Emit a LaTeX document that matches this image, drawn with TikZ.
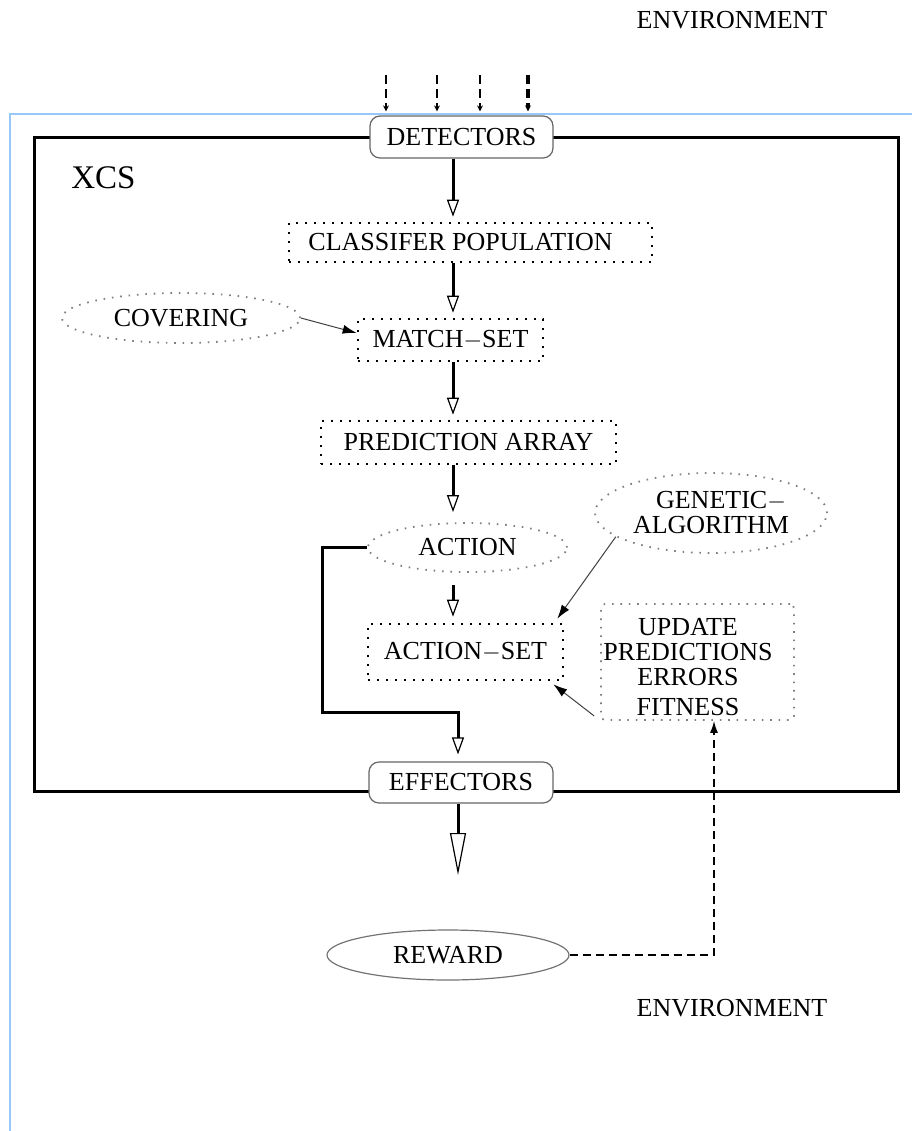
\documentclass[tikz,border=0pt]{standalone}
\usepackage{fontspec}
\setmainfont{Liberation Serif}
\usetikzlibrary{arrows.meta,shapes.geometric}
\definecolor{rulecol}{RGB}{150,200,250}
\begin{document}
\begin{tikzpicture}[x=0.5pt,y=-0.5pt,
  every node/.style={font=\fontsize{13pt}{12.5pt}\selectfont, inner sep=0pt},
  procbox/.style={rectangle, draw=black!60, line width=0.6pt, rounded corners=5pt, fill=white},
  dotbox/.style={rectangle, draw=black, line width=1.3pt, dash pattern=on 1pt off 3.5pt},
  dotell/.style={ellipse, draw=black!50, line width=0.9pt, dash pattern=on 0.8pt off 3.4pt},
  updbox/.style={rectangle, draw=black!50, line width=0.9pt, dash pattern=on 0.8pt off 3.4pt, rounded corners=2pt},
  solell/.style={ellipse, draw=black!55, line width=0.6pt},
  bigarrow/.style={line width=1.5pt, -{Triangle[open,length=8.5pt,width=6pt,line width=0.6pt]}},
  outarrow/.style={line width=1.5pt, -{Triangle[open,length=21pt,width=8pt,line width=0.6pt]}},
  thinarrow/.style={line width=0.5pt, draw=black!75, -{Latex[length=7pt,width=4.5pt,black]}},
  inarrow/.style={dash pattern=on 4.5pt off 2.5pt, -{Stealth[length=3pt,width=3pt]}},
  rewline/.style={line width=0.7pt, dash pattern=on 4pt off 2.5pt, -{Latex[length=6pt,width=4pt]}},
  bluerule/.style={draw=rulecol, line width=1.2pt}
]
\useasboundingbox (0,0) rectangle (912,1131);

% screen frame lines
\draw[bluerule] (9,114) -- (912,114);
\draw[bluerule] (10,114) -- (10,1131);

% system boundary
\draw[line width=1.5pt] (34,137) rectangle (898,791);

% labels
\node (envtop) at (732,20) {ENVIRONMENT};
\node (envbot) at (732,1008) {ENVIRONMENT};
\node[font=\fontsize{16.5pt}{18pt}\selectfont] (xcs) at (103.5,177.5) {XCS};

% components
\node[procbox, minimum width=91.5pt, minimum height=21pt] (det) at (461.5,137) {DETECTORS};
\node[dotbox, minimum width=181.5pt, minimum height=19.5pt] (cls) at (470.5,242.5) {\hspace*{-10pt}CLASSIFER POPULATION};
\node[dotbox, minimum width=92.5pt, minimum height=21pt] (mset) at (450.5,340) {MATCH$-$SET};
\node[dotell, minimum width=119pt, minimum height=25pt] (cov) at (181,318) {COVERING};
\node[dotbox, minimum width=147.5pt, minimum height=21.5pt] (pred) at (468.5,442.5) {PREDICTION ARRAY};
\node[dotell, minimum width=99.5pt, minimum height=24.5pt] (act) at (467.5,547.5) {ACTION};
\node[dotell, minimum width=116pt, minimum height=40pt, align=center] (ga) at (711,513) {\hspace*{10pt}GENETIC$-$\\ALGORITHM};
\node[dotbox, minimum width=97.5pt, minimum height=28pt] (aset) at (465.5,652) {ACTION$-$SET};
\node[updbox, minimum width=96.5pt, minimum height=58pt] (upd) at (697.5,662) {};
\node[align=center] (updtext) at (688,667) {UPDATE\\PREDICTIONS\\ERRORS\\[2.5pt]FITNESS};
\node[procbox, minimum width=92pt, minimum height=20.5pt] (eff) at (461,782.5) {EFFECTORS};
\node[solell, minimum width=121pt, minimum height=25pt] (rew) at (448,955) {REWARD};

% helper coordinates
\coordinate (col) at (453,0);
\coordinate (in1) at (386,75);
\coordinate (in2) at (437,75);
\coordinate (in3) at (480,75);
\coordinate (in4) at (528,75);
\coordinate (lft) at (322,712);
\coordinate (bend) at (458,712);
\coordinate (out) at (458,875);
\coordinate (rcol) at (714,0);

% sensor inputs
\draw[inarrow, line width=1.3pt] (in1) -- ([yshift=2pt]in1 |- det.north);
\draw[inarrow, line width=0.6pt] (in2) -- ([yshift=2pt]in2 |- det.north);
\draw[inarrow, line width=1.3pt] (in3) -- ([yshift=2pt]in3 |- det.north);
\draw[inarrow, line width=1.6pt] (in4) -- ([yshift=2pt]in4 |- det.north);

% main flow
\draw[bigarrow, shorten >=2.5pt] (col |- det.south) -- (col |- cls.north);
\draw[bigarrow, shorten >=2.5pt] (col |- cls.south) -- (col |- mset.north);
\draw[bigarrow, shorten >=2.5pt] (col |- mset.south) -- (col |- pred.north);
\draw[bigarrow, shorten >=5pt] (col |- pred.south) -- (col |- act.north);
\draw[bigarrow, shorten <=6pt, shorten >=3pt] (col |- act.south) -- (col |- aset.north);
\draw[bigarrow, shorten >=3.5pt] (act.west) -- (act.west -| lft) -- (lft) -- (bend) -- (bend |- eff.north);
\draw[outarrow] (eff.south -| out) -- (out);

% side links
\draw[thinarrow] (cov.east) -- ([yshift=3.5pt]mset.west);
\draw[thinarrow] (ga.194) -- ([xshift=-3.5pt,yshift=2pt]aset.north east);
\draw[thinarrow] ([xshift=-3pt,yshift=2.5pt]upd.south west) -- ([xshift=-5.5pt,yshift=-1.5pt]aset.south east);
\draw[rewline] (rew.east) -| (rcol |- upd.south);
\end{tikzpicture}
\end{document}
